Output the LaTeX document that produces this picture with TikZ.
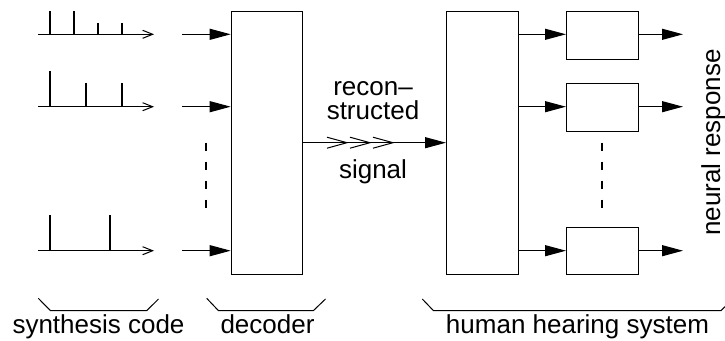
\documentclass[tikz,border=0pt]{standalone}
\usepackage{fontspec}
\setmainfont{Liberation Sans}
\usetikzlibrary{arrows.meta}
\begin{document}
\begin{tikzpicture}[x=1pt,y=-1pt,
  box/.style={draw,line width=1.1pt,inner sep=0pt,anchor=north west},
  lbl/.style={font=\fontsize{26}{29}\selectfont,inner sep=0pt},
  fat/.style={line width=1.1pt,-{Triangle[length=21pt,width=11pt]}},
  axis/.style={line width=1pt,-{Straight Barb[length=10pt,width=8pt,line width=1pt]}},
  spike/.style={line width=2pt},
  dash3/.style={line width=1.1pt,dash pattern=on 8.5pt off 10.5pt},
  brace/.style={line width=1pt}]
\useasboundingbox (0,0) rectangle (725,340);
% boxes
\node[box,minimum width=71pt,minimum height=263.3pt] (dec) at (230.7,10.7) {};
\node[box,minimum width=72pt,minimum height=263.3pt] (hear) at (446,10.7) {};
\node[box,minimum width=72pt,minimum height=48pt] (f1) at (566,10.7) {};
\node[box,minimum width=72pt,minimum height=48pt] (f2) at (566,83) {};
\node[box,minimum width=72pt,minimum height=47.3pt] (f3) at (566,226.7) {};
% signals
\foreach \i/\y in {1/34.3,2/106.7,3/250.7}{
  \coordinate (s\i) at (38,\y);
  \coordinate (e\i) at (154,\y);
  \coordinate (in\i) at (182,\y);
  \coordinate (out\i) at (683,\y);
  \draw[axis] (s\i) -- (e\i);
  \draw[fat] (in\i) -- (in\i -| dec.west);
  \draw[fat] (in\i -| hear.east) -- (in\i -| f1.west);
  \draw[fat] (in\i -| f1.east) -- (out\i);
}
% spikes
\draw[spike] (50.3,34.3) -- (50.3,11) (74.3,34.3) -- (74.3,11)
  (98.3,34.3) -- (98.3,23) (122.3,34.3) -- (122.3,23);
\draw[spike] (50.3,106.7) -- (50.3,71) (86.3,106.7) -- (86.3,83)
  (122.3,106.7) -- (122.3,83);
\draw[spike] (50.3,250.7) -- (50.3,215) (110.3,250.7) -- (110.3,215);
% dashed
\coordinate (d1a) at (206,142.5); \coordinate (d1b) at (206,210);
\coordinate (d2a) at (602,142.5); \coordinate (d2b) at (602,210);
\draw[dash3] (d1a) -- (d1b);
\draw[dash3] (d2a) -- (d2b);
% reconstructed signal
\draw[fat] (dec.east |- 0,142.7) -- (hear.west |- 0,142.7);
\foreach \x in {327,350,373}{
  \draw[line width=1pt] (\x,137.2) -- (\x+20,142.7) -- (\x,148.2);
}
\node[lbl,anchor=base] (t1) at (373,95) {recon–};
\node[lbl,anchor=base] (t2) at (373,119) {structed};
\node[lbl,anchor=base] (t3) at (373,178) {signal};
% braces
\draw[brace] (38.3,298.3) -- (50.5,310.7) -- (146.7,310.7) -- (158.5,299);
\draw[brace] (206.7,298.3) -- (218.5,310.7) -- (313.3,310.7) -- (325.5,299);
\draw[brace] (422.3,299) -- (433.5,310.7) -- (721,310.7) -- (725,306.6);
\node[lbl,anchor=base] (l1) at (98.5,333) {synthesis code};
\node[lbl,anchor=base] (l2) at (267.5,333) {decoder};
\node[lbl,anchor=base] (l3) at (577.5,333) {human hearing system};
\node[lbl,rotate=90,anchor=base] (nr) at (720,142.5) {neural response};
\end{tikzpicture}
\end{document}
